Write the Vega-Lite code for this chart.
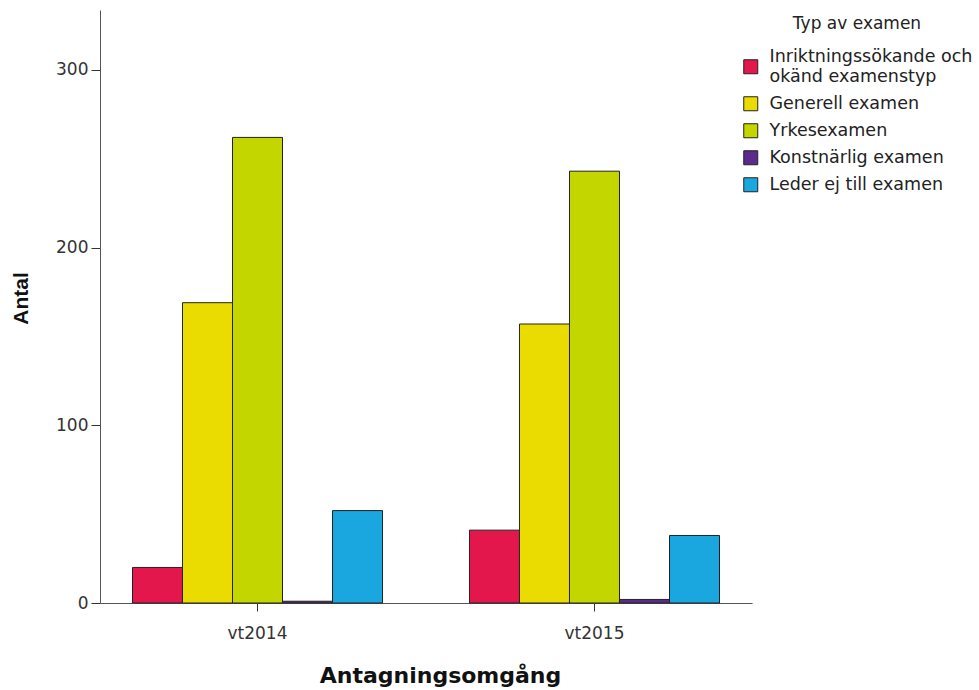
{
  "$schema": "https://vega.github.io/schema/vega-lite/v6.json",
  "width": 652,
  "height": 593,
  "autosize": "none",
  "padding": {"left": 100, "top": 10, "right": 227, "bottom": 87},
  "background": "white",
  "data": {
    "values": [
      {"omgang": "vt2014", "typ": "Inriktningssökande och okänd examenstyp", "antal": 20},
      {"omgang": "vt2014", "typ": "Generell examen", "antal": 169},
      {"omgang": "vt2014", "typ": "Yrkesexamen", "antal": 262},
      {"omgang": "vt2014", "typ": "Konstnärlig examen", "antal": 1},
      {"omgang": "vt2014", "typ": "Leder ej till examen", "antal": 52},
      {"omgang": "vt2015", "typ": "Inriktningssökande och okänd examenstyp", "antal": 41},
      {"omgang": "vt2015", "typ": "Generell examen", "antal": 157},
      {"omgang": "vt2015", "typ": "Yrkesexamen", "antal": 243},
      {"omgang": "vt2015", "typ": "Konstnärlig examen", "antal": 2},
      {"omgang": "vt2015", "typ": "Leder ej till examen", "antal": 38}
    ]
  },
  "mark": {"type": "bar", "stroke": "#222222", "strokeWidth": 1},
  "encoding": {
    "x": {
      "field": "omgang", "type": "nominal",
      "scale": {"paddingInner": 0.258, "paddingOuter": 0.0964},
      "axis": {
        "title": "Antagningsomgång", "labelAngle": 0,
        "labelFont": "DejaVu Sans", "labelFontSize": 17, "labelColor": "#333333",
        "titleFont": "DejaVu Sans", "titleFontSize": 22, "titleFontWeight": "bold", "titleColor": "#111111",
        "titleX": 340, "titlePadding": 24, "labelPadding": 14,
        "domainColor": "#555555", "tickColor": "#333333", "tickSize": 8, "domainWidth": 1
      }
    },
    "xOffset": {
      "field": "typ", "type": "nominal",
      "sort": ["Inriktningssökande och okänd examenstyp", "Generell examen", "Yrkesexamen", "Konstnärlig examen", "Leder ej till examen"],
      "scale": {"paddingInner": 0, "paddingOuter": 0}
    },
    "y": {
      "field": "antal", "type": "quantitative",
      "scale": {"domain": [0, 333.7], "nice": false},
      "axis": {
        "title": "Antal", "values": [0, 100, 200, 300], "grid": false,
        "labelFont": "DejaVu Sans", "labelFontSize": 17, "labelColor": "#333333",
        "titleFont": "Liberation Sans", "titleFontSize": 21, "titleFontWeight": "bold", "titleColor": "#111111",
        "titleY": 288, "titlePadding": 24, "labelPadding": 3,
        "domainColor": "#555555", "tickColor": "#333333", "tickSize": 9
      }
    },
    "color": {
      "field": "typ", "type": "nominal",
      "sort": ["Inriktningssökande och okänd examenstyp", "Generell examen", "Yrkesexamen", "Konstnärlig examen", "Leder ej till examen"],
      "scale": {
        "domain": ["Inriktningssökande och okänd examenstyp", "Generell examen", "Yrkesexamen", "Konstnärlig examen", "Leder ej till examen"],
        "range": ["#e3174b", "#eadb00", "#c4d600", "#5b2a8c", "#1aa6df"]
      },
      "legend": {
        "title": "Typ av examen",
        "orient": "none", "legendX": 642, "legendY": 6,
        "titleFont": "DejaVu Sans", "titleFontSize": 17, "titleFontWeight": "normal", "titleColor": "#222222",
        "titleAnchor": "middle", "titlePadding": 25,
        "labelFont": "DejaVu Sans", "labelFontSize": 17.5, "labelColor": "#222222", "labelLimit": 300,
        "labelExpr": "datum.label == 'Inriktningssökande och okänd examenstyp' ? ['Inriktningssökande och', 'okänd examenstyp'] : datum.label",
        "symbolType": "square", "symbolSize": 196, "symbolStrokeColor": "#222222", "symbolStrokeWidth": 1,
        "symbolOpacity": 1, "rowPadding": 8, "labelOffset": 10,
        "encode": {"labels": {"update": {
          "lineHeight": {"value": 20},
          "dy": {"signal": "datum.value == 'Inriktningssökande och okänd examenstyp' ? -10 : 0"}
        }}}
      }
    }
  },
  "config": {"view": {"stroke": null}}
}
